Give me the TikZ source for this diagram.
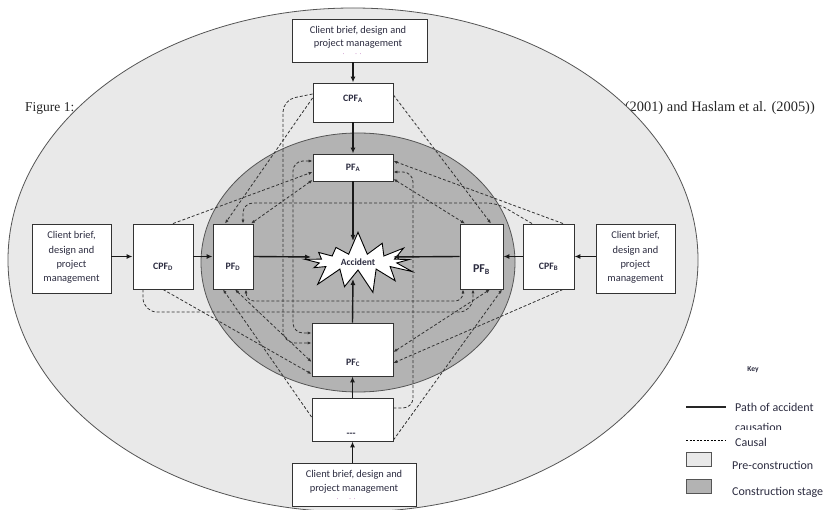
\documentclass[tikz,border=0pt]{standalone}
\usepackage{fontspec}
\setmainfont{Liberation Serif}
\newfontfamily\calfont{Carlito}
\usetikzlibrary{arrows.meta,shapes.symbols}
\definecolor{outerfill}{HTML}{E9E9E9}
\definecolor{innerfill}{HTML}{B3B3B3}
\definecolor{edgegray}{HTML}{555555}
\definecolor{txt}{HTML}{2C2C40}
\definecolor{dashc}{HTML}{333333}
\definecolor{dotc}{HTML}{9A2C9A}
\begin{document}
\begin{tikzpicture}[x=1pt,y=-1pt,
  box/.style={draw=black!80, line width=0.9pt, fill=white, inner sep=0pt},
  lbl/.style={font=\calfont\fontsize{10.4}{11}\selectfont, text=txt, inner sep=0pt},
  flbl/.style={font=\calfont\bfseries\fontsize{9.8}{11}\selectfont, text=txt, inner sep=0pt},
  leg/.style={font=\calfont\fontsize{12}{13}\selectfont, text=txt, inner sep=0pt},
  capt/.style={text=black!85, inner sep=0pt},
  dsh/.style={draw=dashc, line width=0.8pt, dash pattern=on 3pt off 2pt},
  tip/.style={-{Latex[length=4pt,width=3.2pt]}},
  tipboth/.style={{Latex[length=4pt,width=3.2pt]}-{Latex[length=4pt,width=3.2pt]}},
  path/.style={line width=1.4pt, draw=black!90, -{Latex[length=6pt,width=5pt]}}
]
\useasboundingbox (0,0) rectangle (838,510);
\clip (0,0) rectangle (838,510);
\fill[white] (0,0) rectangle (838,510);

% caption behind the diagram
\node[capt, anchor=west, font=\fontsize{13.5}{15}\selectfont] (capL) at (25,108) {Figure 1:};
\node[capt, anchor=east, font=\fontsize{14.4}{16}\selectfont] (capR) at (815,108) {(2001) and Haslam et al. (2005))};

% stages
\draw[draw=edgegray, line width=0.8pt, fill=outerfill] (353,260) ellipse [x radius=345pt, y radius=252pt];
\draw[draw=edgegray, line width=0.8pt, fill=innerfill] (358,262.5) ellipse [x radius=157pt, y radius=129.5pt];

% boxes
\node[box, minimum width=135pt, minimum height=43pt] (topC) at (359.5,40.5) {};
\node[box, minimum width=80pt, minimum height=39pt] (cpfA) at (353,102.5) {};
\node[box, minimum width=80pt, minimum height=27pt] (pfA) at (353,167.5) {};
\node[box, minimum width=79pt, minimum height=69pt] (leftC) at (71.5,258.5) {};
\node[box, minimum width=60pt, minimum height=65pt] (cpfD) at (163,256.5) {};
\node[box, minimum width=40pt, minimum height=65pt] (pfD) at (233,256.5) {};
\node[box, minimum width=43pt, minimum height=65pt] (pfB) at (481.5,256.5) {};
\node[box, minimum width=51pt, minimum height=65pt] (cpfB) at (548.5,256.5) {};
\node[box, minimum width=79pt, minimum height=69pt] (rightC) at (635.5,258.5) {};
\node[box, minimum width=81pt, minimum height=53pt] (pfC) at (352.5,349.5) {};
\node[box, minimum width=81pt, minimum height=43pt] (cpfC) at (352.5,419.5) {};
\node[box, minimum width=124pt, minimum height=43pt] (botC) at (354,484.5) {};

% accident
\node[starburst, draw=black, line width=0.9pt, fill=white, starburst points=13,
      starburst point height=24pt, random starburst=7, minimum width=126pt,
      minimum height=64pt, inner sep=0pt, font=\calfont\bfseries\fontsize{9.5}{11}\selectfont, text=txt] (acc) at (358,262) {Accident};
\coordinate (accT) at (353,241);
\coordinate (accB) at (353,279);
\coordinate (accL) at (311,257);
\coordinate (accR) at (393,257);

% causal (dashed) links
\draw[dsh, tip, rounded corners=12pt] (cpfA.west |- 0,94) -- (283,100) -- (283,343) -- (pfC.west |- 0,343);
\draw[dsh, tipboth, rounded corners=10pt] (pfA.west |- 0,161) -- (293,161) -- (293,333) -- (pfC.west |- 0,333);
\draw[dsh, tip] (cpfA.west |- 0,98) -- (225,0 |- pfD.north);
\draw[dsh, tip] (cpfA.east |- 0,95) -- (491,0 |- pfB.north);
\draw[dsh, tip] (563,0 |- cpfB.north) -- (pfA.east |- 0,161);
\draw[dsh, tipboth] (pfA.east |- 0,179) -- (465,0 |- pfB.north);
\draw[dsh, tip, rounded corners=10pt] (532,0 |- cpfB.north) -- (497,203) -- (243,203) -- (243,0 |- pfD.north);
\draw[dsh, tip] (173,0 |- cpfD.north) -- (pfA.west |- 0,172);
\draw[dsh, tipboth] (pfA.west |- 0,180) -- (251,0 |- pfD.north);
\draw[dsh, tip, rounded corners=10pt] (cpfC.east |- 0,408) -- (413,408) -- (413,172) -- (pfA.east |- 0,172);
\draw[dsh, tip, rounded corners=14pt] (143,0 |- cpfD.south) -- (143,312) -- (473,312) -- (473,0 |- pfB.south);
\draw[dsh, tipboth, rounded corners=8pt] (246,0 |- pfD.south) -- (246,301) -- (463,301) -- (463,0 |- pfB.south);
\draw[dsh, tip] (cpfC.west |- 0,417) -- (223,0 |- pfD.south);
\draw[dsh, tipboth] (235,0 |- pfD.south) -- (pfC.west |- 0,362);
\draw[dsh, tip] (163,0 |- cpfD.south) -- (pfC.west |- 0,374);
\draw[dsh, tipboth] (pfC.east |- 0,352) -- (490,0 |- pfB.south);
\draw[dsh, tip] (cpfC.east |- 0,440) -- (502,0 |- pfB.south);
\draw[dsh, tip] (563,0 |- cpfB.south) -- (pfC.east |- 0,363);

% path of accident causation
\draw[path] (topC.south -| cpfA.north) -- (cpfA.north);
\draw[path] (cpfA.south) -- (pfA.north);
\draw[path] (pfA.south) -- (accT);
\draw[path] (leftC.east |- cpfD.center) -- (cpfD.west);
\draw[path] (cpfD.east) -- (pfD.west);
\draw[path] (pfD.east) -- (accL);
\draw[path] (rightC.west |- cpfB.center) -- (cpfB.east);
\draw[path] (cpfB.west) -- (pfB.east);
\draw[path] (pfB.west) -- (accR);
\draw[path] (botC.north -| cpfC.south) -- (cpfC.south);
\draw[path] (cpfC.north) -- (pfC.south);
\draw[path] (pfC.north) -- (accB);

% texts
\node[lbl] (t1) at (358,31) {Client brief, design and};
\node[lbl] (t2) at (358,44) {project management};
\node[font=\fontsize{6}{6}\selectfont, text=dotc, inner sep=0pt] (t3) at (352,54.5) {.\hspace{11pt}.\hspace{3pt}.};
\node[lbl, align=center, font=\calfont\fontsize{10.4}{14.3}\selectfont] (tl) at (71.5,257.5) {Client brief,\\design and\\project\\management};
\node[lbl, align=center, font=\calfont\fontsize{10.4}{14.3}\selectfont] (tr) at (635.5,257.5) {Client brief,\\design and\\project\\management};
\node[lbl] (b1) at (354,475) {Client brief, design and};
\node[lbl] (b2) at (354,489) {project management};
\node[font=\fontsize{6}{6}\selectfont, text=dotc, inner sep=0pt] (b3) at (346,499.5) {.\hspace{11pt}.\hspace{3pt}.};

\node[flbl] (lA) at (353,99) {CPF\textsubscript{A}};
\node[flbl] (lpA) at (353,168) {PF\textsubscript{A}};
\node[flbl] (lD) at (163,267) {CPF\textsubscript{D}};
\node[flbl] (lpD) at (233,267) {PF\textsubscript{D}};
\node[font=\calfont\bfseries\fontsize{12}{13}\selectfont, text=txt, inner sep=0pt] (lpB) at (481.5,270) {PF\textsubscript{B}};
\node[flbl] (lB) at (548.5,267) {CPF\textsubscript{B}};
\node[flbl] (lpC) at (353,363) {PF\textsubscript{C}};
\node[flbl] (lC) at (351,435) {---};

% key
\node[font=\calfont\bfseries\fontsize{7.5}{8}\selectfont, text=txt, inner sep=0pt] (key) at (753,370) {Key};
\draw[line width=1.6pt, draw=black!85] (686,407) -- (726,407);
\node[leg, anchor=west] (k1) at (735,407) {Path of accident};
\begin{scope}
\clip (728,418) rectangle (838,429.5);
\node[leg, anchor=west] (k1b) at (735,427) {causation};
\end{scope}
\draw[line width=0.6pt, dash pattern=on 2pt off 1.5pt] (686,440) -- (726,440);
\node[leg, anchor=west] (k2) at (735,442) {Causal};
\draw[draw=edgegray, fill=outerfill, line width=0.8pt] (686,452) rectangle (711,466);
\node[leg, anchor=west] (k3) at (732,465) {Pre-construction};
\draw[draw=edgegray, fill=innerfill, line width=0.8pt] (686,479) rectangle (711,493);
\node[leg, anchor=west] (k4) at (732,492) {Construction stage};
\end{tikzpicture}
\end{document}
